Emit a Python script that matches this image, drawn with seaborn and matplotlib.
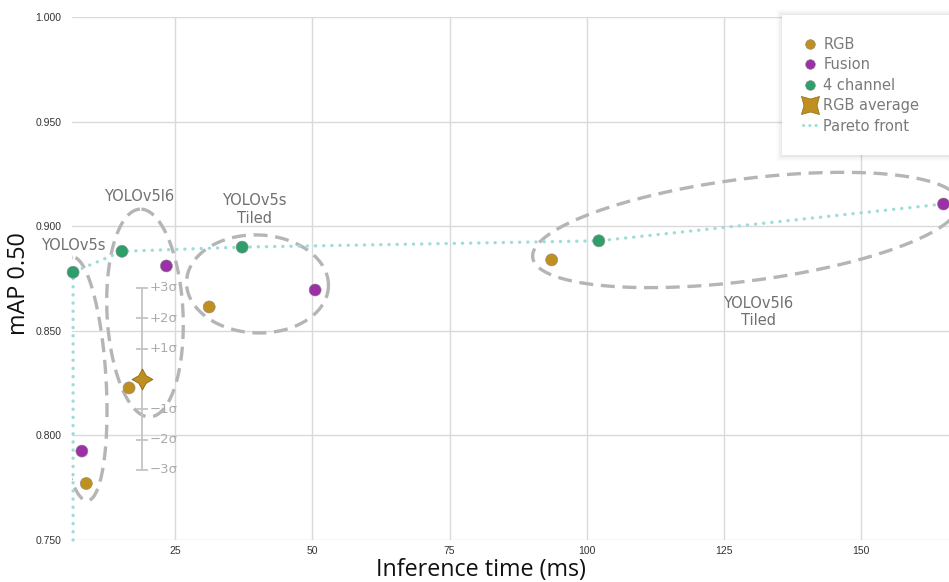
import numpy as np
import pandas as pd
import matplotlib
matplotlib.use("Agg")
import matplotlib.pyplot as plt
import seaborn as sns
from matplotlib.path import Path
from matplotlib.lines import Line2D
from matplotlib.patches import Rectangle

# ---------------- data ----------------
rgb_x = [8.8, 16.6, 31.2, 93.6]
rgb_y = [0.777, 0.8227, 0.8614, 0.8839]
fusion_x = [8.0, 23.4, 50.5, 165.0]
fusion_y = [0.7925, 0.8810, 0.8695, 0.9106]
ch4_x = [6.4, 15.3, 37.2, 102.2]
ch4_y = [0.8780, 0.8880, 0.8900, 0.8930]
avg_x = 19.0
avg_y = 0.827
avg_std = 0.0145
sigma_levels = [3, 2, 1, -1, -2, -3]
sigma_labels = ["+3σ", "+2σ", "+1σ", "−1σ", "−2σ", "−3σ"]
pareto_x = [6.4, 6.4, 15.3, 37.2, 102.2, 165.0]
pareto_y = [0.750, 0.8780, 0.8880, 0.8900, 0.8930, 0.9106]
x_ticks = [25, 50, 75, 100, 125, 150]
y_ticks = [0.75, 0.80, 0.85, 0.90, 0.95, 1.00]

# group annotations: label, label anchor (data), ellipse centre (data)
group_labels = ["YOLOv5s", "YOLOv5l6", "YOLOv5s\nTiled", "YOLOv5l6\nTiled"]
label_x = [6.4, 18.4, 39.4, 131.2]
label_y = [0.891, 0.914, 0.908, 0.859]
ell_cx = [7.66, 19.5, 40.0, 129.0]
ell_cy = [0.827, 0.8585, 0.8724, 0.8982]

df = pd.DataFrame({
    "time": rgb_x + fusion_x + ch4_x,
    "map": rgb_y + fusion_y + ch4_y,
    "kind": ["RGB"] * 4 + ["Fusion"] * 4 + ["4 channel"] * 4,
})

C_RGB = "#BF901F"
C_FUS = "#9C30A6"
C_4CH = "#2E9F6A"
C_PAR = "#9EDCD9"
C_ELL = "#B5B5B5"
palette = {"RGB": C_RGB, "Fusion": C_FUS, "4 channel": C_4CH}

sns.set_theme(style="whitegrid")
plt.rcParams["font.family"] = ["DejaVu Sans"]

fig = plt.figure(figsize=(9.49, 5.82), dpi=100)
ax = fig.add_axes([72 / 949, 42 / 582, 877 / 949, 523 / 582])
ax.set_facecolor("white")
ax.set_xlim(6.2, 166.0)
ax.set_ylim(0.75, 1.0)
ax.set_xticks(x_ticks)
ax.set_yticks(y_ticks)
ax.set_yticklabels([f"{v:.3f}" for v in y_ticks])
ax.grid(True, color="#DADADA", linewidth=1.0)
for s in ax.spines.values():
    s.set_visible(False)
ax.tick_params(axis="both", length=0, labelsize=7.5, labelcolor="#333333")
ax.tick_params(axis="y", pad=7.5)
ax.tick_params(axis="x", pad=4.5)
for lab in ax.get_xticklabels() + ax.get_yticklabels():
    lab.set_fontfamily(["Liberation Sans", "DejaVu Sans"])
ax.set_xlabel("Inference time (ms)", fontsize=16.8, color="#111111",
              fontfamily=["Open Sans", "DejaVu Sans"])
ax.set_ylabel("mAP 0.50", fontsize=16.8, color="#111111",
              fontfamily=["Open Sans", "DejaVu Sans"])
ax.xaxis.set_label_coords((481 - 72) / 877, -18 / 523)
ax.yaxis.set_label_coords((31 - 72) / 877, (540 - 284) / 523)

fig.canvas.draw()

# ---------- ellipses drawn in pixel space ----------
ell_a = [122, 104, 71, 215]
ell_b = [26, 38, 49, 51]
ell_ang = [93.5, 92.8, -2.0, 7.4]
t = np.linspace(0, 2 * np.pi, 400)
inv = ax.transData.inverted()
for cx, cy, a, b, ang in zip(ell_cx, ell_cy, ell_a, ell_b, ell_ang):
    px, py = ax.transData.transform((cx, cy))
    th = np.deg2rad(ang)
    ex = a * np.cos(t)
    ey = b * np.sin(t)
    X = px + ex * np.cos(th) - ey * np.sin(th)
    Y = py + ex * np.sin(th) + ey * np.cos(th)
    pts = inv.transform(np.column_stack([X, Y]))
    ax.plot(pts[:, 0], pts[:, 1], color=C_ELL, lw=2.4,
            linestyle=(0, (4.2, 2.3)), clip_on=True, zorder=2)

# ---------- pareto front ----------
ax.plot(pareto_x, pareto_y, color=C_PAR, lw=2.4, linestyle=(0, (0.05, 2.4)),
        dash_capstyle="round", zorder=3, clip_on=False)

# ---------- scatter points ----------
sns.scatterplot(data=df, x="time", y="map", hue="kind", palette=palette,
                s=75, edgecolor="#8A8A8A", linewidth=0.4, ax=ax,
                legend=False, zorder=5, clip_on=False)

# ---------- RGB average with sigma bar ----------
k = 0.36
star = Path([(0, 1), (k, k), (1, 0), (k, -k), (0, -1),
             (-k, -k), (-1, 0), (-k, k), (0, 1)],
            [Path.MOVETO] + [Path.LINETO] * 7 + [Path.CLOSEPOLY])
star_x = star.transformed(matplotlib.transforms.Affine2D().rotate_deg(45))
C_BAR = "#C4C4C4"
ax.plot([avg_x, avg_x], [avg_y - 3 * avg_std, avg_y + 3 * avg_std],
        color=C_BAR, lw=1.3, zorder=4)
for lv, lt in zip(sigma_levels, sigma_labels):
    yy = avg_y + lv * avg_std
    ax.plot([avg_x], [yy], marker="_", markersize=8, mew=1.3, color=C_BAR,
            zorder=4)
    ax.annotate(lt, (avg_x, yy), xytext=(5, 0), textcoords="offset points",
                va="center", ha="left", fontsize=9.5, color="#ABABAB",
                zorder=4)
ax.plot([avg_x], [avg_y], marker=star, markersize=15, color=C_RGB,
        markeredgecolor="#8F6A10", mew=0.6, zorder=6)

# ---------- group labels ----------
for lab, lx, ly in zip(group_labels, label_x, label_y):
    ax.text(lx, ly, lab, ha="center", va="center", fontsize=10.5,
            color="#707070", linespacing=1.2, zorder=7)

# ---------- legend (box with soft shadow, running off the right edge) ----------
for i, alpha in enumerate([0.035, 0.025, 0.018, 0.012]):
    d = (i + 1) * 1.5
    ax.add_patch(Rectangle(((782 - d) / 949, (582 - 155 - d) / 582),
                           (200 + 2 * d) / 949, (140 + 2 * d) / 582,
                           transform=fig.transFigure, clip_on=False,
                           facecolor="black", alpha=alpha,
                           edgecolor="none", zorder=8))
ax.add_patch(Rectangle((782 / 949, (582 - 155) / 582), 200 / 949,
                       140 / 582, transform=fig.transFigure, clip_on=False,
                       facecolor="white", edgecolor="none", zorder=9))

handles = [
    Line2D([], [], marker="o", ls="", color=C_RGB, markersize=7,
           markeredgecolor="#8A8A8A", mew=0.4, label="RGB"),
    Line2D([], [], marker="o", ls="", color=C_FUS, markersize=7,
           markeredgecolor="#8A8A8A", mew=0.4, label="Fusion"),
    Line2D([], [], marker="o", ls="", color=C_4CH, markersize=7,
           markeredgecolor="#8A8A8A", mew=0.4, label="4 channel"),
    Line2D([], [], marker=star_x, ls="", color=C_RGB, markersize=13,
           markeredgecolor="#8F6A10", mew=0.5, label="RGB average"),
    Line2D([], [], color=C_PAR, lw=2.2, ls=(0, (0.05, 2.0)),
           dash_capstyle="round", label="Pareto front"),
]
leg = ax.legend(handles=handles, loc="upper left",
                bbox_to_anchor=(803 / 949, 1 - 37 / 582),
                bbox_transform=fig.transFigure, frameon=False,
                fontsize=10.5, labelcolor="#7A7A7A", handlelength=1.0,
                handletextpad=0.4, labelspacing=0.37, borderpad=0,
                borderaxespad=0)
leg.set_zorder(10)

fig.savefig("out.png", dpi=100, facecolor="white")
